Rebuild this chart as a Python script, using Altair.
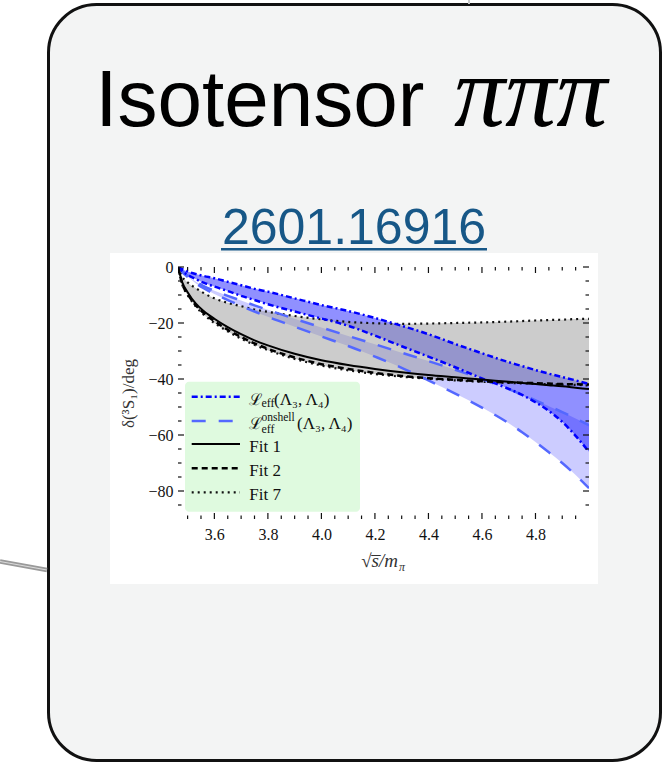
import altair as alt
import pandas as pd

# ---------------- values ----------------
x_vals = [3.4641, 3.48, 3.50, 3.53, 3.56, 3.60, 3.65, 3.70, 3.75, 3.80, 3.90, 4.00,
          4.10, 4.20, 4.30, 4.40, 4.50, 4.60, 4.70, 4.75, 4.80, 4.85, 4.90, 4.95, 5.00]
fit1 = [0, -5.5, -9.0, -13.0, -15.7, -18.5, -21.5, -24.0, -26.2, -28.0, -31.0, -33.3,
        -35.0, -36.4, -37.6, -38.6, -39.4, -40.2, -41.0, -41.4, -41.8, -42.2, -42.6, -43.1, -43.6]
fit2 = [0, -6.0, -9.6, -13.6, -16.4, -19.3, -22.4, -25.0, -27.3, -29.2, -32.3, -34.7,
        -36.4, -37.8, -38.9, -39.7, -40.3, -40.8, -41.2, -41.35, -41.5, -41.65, -41.8, -41.9, -42.0]
fit7_upper = [0, -3.5, -5.5, -7.5, -9.3, -11.2, -12.8, -14.0, -15.2, -16.0, -17.5, -18.7,
              -19.6, -20.1, -20.3, -20.2, -20.0, -19.8, -19.5, -19.3, -19.1, -18.95, -18.8, -18.6, -18.5]
fit7_lower = [0, -6.3, -10.0, -14.0, -17.0, -20.0, -23.0, -25.6, -27.8, -29.7, -32.8, -35.2,
              -36.9, -38.2, -39.2, -39.9, -40.5, -41.0, -41.4, -41.55, -41.7, -41.85, -42.0, -42.1, -42.3]
eff_upper = [0, -0.8, -1.6, -2.5, -3.2, -4.0, -5.3, -6.5, -7.8, -8.8, -11.2, -13.6,
             -15.7, -18.2, -21.0, -24.0, -27.5, -30.8, -34.0, -35.4, -36.8, -38.1, -39.3, -40.5, -41.8]
eff_lower = [0, -1.5, -2.8, -4.3, -5.6, -7.0, -8.6, -10.3, -11.8, -13.3, -15.9, -18.4,
             -21.0, -24.5, -28.3, -32.0, -35.8, -39.8, -43.5, -45.7, -48.3, -51.4, -55.3, -60.3, -66.0]
onshell_upper = [0, -1.5, -3.0, -5.2, -6.8, -8.5, -10.3, -12.0, -13.7, -15.3, -18.5, -21.6,
                 -24.6, -27.6, -30.6, -33.6, -36.7, -40.0, -43.6, -45.6, -47.6, -49.7, -51.8, -54.1, -56.5]
onshell_lower = [0, -1.8, -3.5, -5.8, -7.6, -9.6, -11.8, -13.9, -15.9, -17.8, -21.3, -24.8,
                 -28.2, -32.0, -36.0, -40.5, -45.2, -50.2, -55.8, -59.0, -62.5, -66.2, -70.0, -74.3, -79.0]

x_major = [3.6, 3.8, 4.0, 4.2, 4.4, 4.6, 4.8]
x_minor = [3.5, 3.55, 3.65, 3.7, 3.75, 3.85, 3.9, 3.95, 4.05, 4.1, 4.15, 4.25, 4.3,
           4.35, 4.45, 4.5, 4.55, 4.65, 4.7, 4.75, 4.85, 4.9, 4.95]
y_major = [0, -20, -40, -60, -80]
y_minor = [-5, -10, -15, -25, -30, -35, -45, -50, -55, -65, -70, -75, -85]

card_title = "Isotensor"
card_title_math = "πππ"
card_link = "2601.16916"
y_title = "δ(³S₁)/deg"
x_title_main = "√s̅/m"
x_title_sub = "π"
leg_script = "ℒ"
leg_sub = "eff"
leg_sup = "onshell"
leg_args = "(Λ₃, Λ₄)"
fit_labels = ["Fit 1", "Fit 2", "Fit 7"]

# ---------------- tables ----------------
df = pd.DataFrame({
    "x": x_vals, "fit1": fit1, "fit2": fit2, "f7u": fit7_upper, "f7l": fit7_lower,
    "effu": eff_upper, "effl": eff_lower, "onu": onshell_upper, "onl": onshell_lower,
})
df_xmaj = pd.DataFrame({"v": x_major})
df_xmin = pd.DataFrame({"v": x_minor})
df_ymaj = pd.DataFrame({"v": y_major})
df_ymin = pd.DataFrame({"v": y_minor})
one = pd.DataFrame({"k": [0]})

W, H = 411, 252
SERIF = "Liberation Serif"

xs = alt.Scale(domain=[3.4641, 5.0], nice=False, zero=False)
ys = alt.Scale(domain=[-90, 0], nice=False, zero=False)
xax = alt.Axis(values=x_major, format=".1f", ticks=False, domain=False, grid=False,
               labelFont=SERIF, labelFontSize=16, labelColor="#111", labelPadding=7,
               labelOverlap=False, zindex=1)
yax = alt.Axis(values=y_major, format="d", ticks=False, domain=False, grid=False,
               labelFont=SERIF, labelFontSize=16, labelColor="#111", labelPadding=5,
               labelOverlap=False, title=y_title, titleFont=SERIF, titleFontSize=17,
               titleFontWeight="normal", titleColor="#333", titlePadding=10, zindex=1)


def X(f):
    return alt.X(f"{f}:Q", scale=xs, axis=xax, title=None)


def Y(f):
    return alt.Y(f"{f}:Q", scale=ys, axis=yax)


def txt(s, x, y, size, font=SERIF, style="normal", align="left", color="#111"):
    return alt.Chart(one).mark_text(
        text=s, align=align, baseline="alphabetic", font=font, fontSize=size,
        fontStyle=style, color=color
    ).encode(x=alt.value(x), y=alt.value(y))


def seg(x1, x2, y, color, width, dash=None, y2=None):
    kw = dict(color=color, strokeWidth=width)
    if dash is not None:
        kw["strokeDash"] = dash
    enc = dict(x=alt.value(x1), x2=alt.value(x2), y=alt.value(y))
    if y2 is not None:
        enc["y2"] = alt.value(y2)
    return alt.Chart(one).mark_rule(**kw).encode(**enc)


# ---------------- card / decoration ----------------
card = alt.Chart(one).mark_rect(cornerRadius=48, fill="#f3f4f4", stroke="#111",
                                strokeWidth=3).encode(
    x=alt.value(-129.5), x2=alt.value(482.5), y=alt.value(-262.5), y2=alt.value(493.5))
image_bg = alt.Chart(one).mark_rect(fill="white").encode(
    x=alt.value(-68), x2=alt.value(420), y=alt.value(-14), y2=alt.value(317))
conn1 = seg(-178, -131, 294.5, "#9a9a9a", 4.5, y2=303)
conn2 = seg(-178, -131, 294.5, "#dadada", 1.2, y2=303)
conn_top = alt.Chart(one).mark_rule(color="#c8c8c8", strokeWidth=2).encode(
    x=alt.value(291), y=alt.value(-267), y2=alt.value(-263))

title1 = txt(card_title, -82.7, -141, 80, font="Liberation Sans", color="#000")
title2 = txt(card_title_math, 276, -141, 102, font=SERIF, style="italic", color="#000")
link = txt(card_link, 176, -22.8, 50, font="Liberation Sans", align="center", color="#175787")
underline = seg(43, 309, -17.7, "#175787", 2.5)

# ---------------- bands and curves ----------------
base = alt.Chart(df)
area_kw = dict(interpolate="monotone", clip=True)
eff_area = base.mark_area(color="#0000ff", opacity=0.435, **area_kw).encode(
    x=X("x"), y=Y("effu"), y2="effl:Q")
on_area = base.mark_area(color="#0000ff", opacity=0.2, **area_kw).encode(
    x=X("x"), y=Y("onu"), y2="onl:Q")
gray_area = base.mark_area(color="#999999", opacity=0.5, **area_kw).encode(
    x=X("x"), y=Y("f7u"), y2="f7l:Q")


def curve(f, color, width, dash=None):
    kw = dict(color=color, strokeWidth=width, interpolate="monotone", clip=True)
    if dash is not None:
        kw["strokeDash"] = dash
    return base.mark_line(**kw).encode(x=X("x"), y=Y(f))


DASHDOT = [6, 3, 2, 3]
LONGDASH = [14, 13]
DASH = [6, 4]
DOT = [2, 4]
BLUE = "#0000ff"
LBLUE = "#5468ff"

curves = [
    curve("f7u", "#111", 2.2, DOT),
    curve("f7l", "#111", 2.2, DOT),
    curve("onu", LBLUE, 2.5, LONGDASH),
    curve("onl", LBLUE, 2.5, LONGDASH),
    curve("effu", BLUE, 2.5, DASHDOT),
    curve("effl", BLUE, 2.5, DASHDOT),
    curve("fit2", "#000", 2.5, DASH),
    curve("fit1", "#000", 2.0),
]

# ---------------- inward frame ticks ----------------
tick_kw = dict(color="#111", strokeWidth=1.2)
ticks = [
    alt.Chart(df_xmaj).mark_rule(**tick_kw).encode(x=X("v"), y=alt.value(H), y2=alt.value(H - 6)),
    alt.Chart(df_xmaj).mark_rule(**tick_kw).encode(x=X("v"), y=alt.value(0), y2=alt.value(6)),
    alt.Chart(df_xmin).mark_rule(**tick_kw).encode(x=X("v"), y=alt.value(H), y2=alt.value(H - 3.5)),
    alt.Chart(df_xmin).mark_rule(**tick_kw).encode(x=X("v"), y=alt.value(0), y2=alt.value(3.5)),
    alt.Chart(df_ymaj).mark_rule(**tick_kw).encode(y=Y("v"), x=alt.value(0), x2=alt.value(6)),
    alt.Chart(df_ymaj).mark_rule(**tick_kw).encode(y=Y("v"), x=alt.value(W), x2=alt.value(W - 6)),
    alt.Chart(df_ymin).mark_rule(**tick_kw).encode(y=Y("v"), x=alt.value(0), x2=alt.value(3.5)),
    alt.Chart(df_ymin).mark_rule(**tick_kw).encode(y=Y("v"), x=alt.value(W), x2=alt.value(W - 3.5)),
]

# ---------------- legend ----------------
leg_box = alt.Chart(one).mark_rect(fill="#dffadf", cornerRadius=4).encode(
    x=alt.value(7), x2=alt.value(182), y=alt.value(114.7), y2=alt.value(244.7))
LX1, LX2, TX = 13.7, 62, 70.5
legend = [
    leg_box,
    seg(LX1, LX2, 129.7, BLUE, 2.5, DASHDOT),
    seg(LX1, LX2, 154.0, LBLUE, 2.5, LONGDASH),
    seg(LX1, LX2, 177.0, "#000", 2.0),
    seg(LX1, LX2, 201.3, "#000", 2.5, DASH),
    seg(LX1, LX2, 225.3, "#111", 2.2, DOT),
    txt(leg_script, TX, 137.5, 16, font="DejaVu Serif"),
    txt(leg_sub, 83.5, 139.5, 12),
    txt(leg_args, 96, 137.5, 17),
    txt(leg_script, TX, 161.5, 16, font="DejaVu Serif"),
    txt(leg_sup, 83.5, 153.5, 11.5),
    txt(leg_sub, 83.5, 165.5, 12),
    txt(leg_args, 119, 161.5, 17),
    txt(fit_labels[0], 71.3, 184.7, 17),
    txt(fit_labels[1], 71.3, 208.7, 17),
    txt(fit_labels[2], 71.3, 232.6, 17),
]

xtitle = [
    txt(x_title_main, 220, 300, 19, style="italic", align="right", color="#333"),
    txt(x_title_sub, 221, 303.5, 12, style="italic", color="#333"),
]

chart = alt.layer(
    card, image_bg, conn1, conn2, conn_top, title1, title2, link, underline,
    eff_area, on_area, gray_area, *curves, *ticks, *legend, *xtitle,
).properties(
    width=W, height=H,
    padding={"left": 178, "top": 267, "right": 77, "bottom": 245},
    autosize=alt.AutoSizeParams(type="none"),
).configure(background="white").configure_view(stroke="#111", strokeWidth=1.8)

chart.save("out.html", embed_options={"renderer": "svg", "actions": False})
